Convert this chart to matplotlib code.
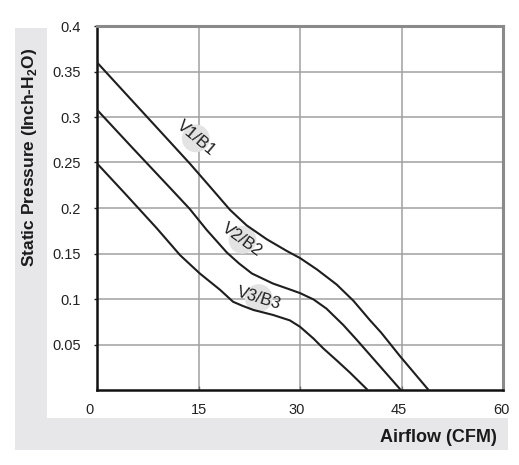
import matplotlib.pyplot as plt
import matplotlib.transforms as mtransforms
from matplotlib.patches import Rectangle

plt.rcParams['font.family'] = ['Liberation Sans', 'DejaVu Sans']
plt.rcParams['mathtext.fontset'] = 'custom'
plt.rcParams['mathtext.rm'] = 'Liberation Sans:bold'
plt.rcParams['mathtext.bf'] = 'Liberation Sans:bold'

# curve data (airflow CFM, static pressure inch-H2O)
v1_x = [0, 5, 10, 13.7, 16.7, 19.65, 22.1, 25.1, 28, 30, 32.5, 35.4, 37.9, 40.3, 42, 44.8, 49]
v1_y = [0.36, 0.3195, 0.279, 0.249, 0.2234, 0.198, 0.181, 0.1656, 0.153, 0.145, 0.1325,
        0.116, 0.098, 0.077, 0.063, 0.037, 0.0]

v2_x = [0, 5, 11, 13.7, 16.2, 19.2, 21, 22.9, 26, 28.5, 30, 32, 33.9, 36.4, 38.4, 41, 44.9]
v2_y = [0.308, 0.268, 0.2205, 0.199, 0.176, 0.151, 0.139, 0.128, 0.117, 0.1105, 0.1065,
        0.0995, 0.0895, 0.0714, 0.055, 0.033, 0.0]

v3_x = [0, 4, 8.8, 12.3, 15.2, 18.2, 20.1, 21.5, 23.1, 26, 28.5, 30, 32, 33.4, 35.5, 37.4, 40]
v3_y = [0.249, 0.217, 0.178, 0.148, 0.128, 0.110, 0.097, 0.0925, 0.088, 0.0825, 0.0765,
        0.0695, 0.0565, 0.046, 0.032, 0.019, 0.0]

labels = ['V1/B1', 'V2/B2', 'V3/B3']
x_ticks = [0, 15, 30, 45, 60]
y_ticks = [0.05, 0.1, 0.15, 0.2, 0.25, 0.3, 0.35, 0.4]
y_tick_labels = ['0.05', '0.1', '0.15', '0.2', '0.25', '0.3', '0.35', '0.4']

W, H = 519, 465
fig = plt.figure(figsize=(W / 100, H / 100), dpi=100)

# gray L-shaped panel behind the axis labels
gray = '#e7e7e9'
fig.patches.append(Rectangle((15 / W, 15 / H), 32 / W, 422 / H, transform=fig.transFigure,
                             facecolor=gray, edgecolor='none', zorder=0))
fig.patches.append(Rectangle((15 / W, 15 / H), 493 / W, 32 / H, transform=fig.transFigure,
                             facecolor=gray, edgecolor='none', zorder=0))

ax = fig.add_axes([97 / W, 75 / H, 406 / W, 364 / H])
ax.set_xlim(0, 60)
ax.set_ylim(0, 0.4)

ax.grid(True, color='#a0a0a0', linewidth=1.1)
ax.set_axisbelow(True)

line_kw = dict(color='#1e1e1e', linewidth=1.5, zorder=3, solid_capstyle='butt',
               solid_joinstyle='round')
ax.plot(v1_x, v1_y, **line_kw)
ax.plot(v2_x, v2_y, **line_kw)
ax.plot(v3_x, v3_y, **line_kw)

# curve labels with light circle behind
lab_pos = [(14.6, 0.2765), (21.5, 0.165), (23.9, 0.101)]
lab_rot = [-40, -36, -17]
for (lx, ly), rot, txt in zip(lab_pos, lab_rot, labels):
    ax.scatter([lx], [ly], s=400, color='#e3e3e3', edgecolors='none', zorder=2)
    ax.text(lx, ly, txt, rotation=rot, rotation_mode='anchor', ha='center', va='center',
            fontsize=12, color='#1e1e1e', zorder=4)

ax.set_xticks(x_ticks)
ax.set_xticklabels([str(t) for t in x_ticks])
ax.set_yticks(y_ticks)
ax.set_yticklabels(y_tick_labels)
ax.tick_params(axis='y', direction='out', length=2.5, width=1, pad=9, labelsize=10.5,
               colors='#222222')
ax.tick_params(axis='x', direction='in', length=3, width=1, pad=9, labelsize=10.5,
               colors='#222222')
ax.tick_params(axis='x', color='#707070')

for lbl, dx in zip(ax.get_xticklabels(), [-7, 0, -3, -3, -2]):
    lbl.set_transform(lbl.get_transform() +
                      mtransforms.ScaledTranslation(dx / 100, 0, fig.dpi_scale_trans))

for side in ['left', 'bottom']:
    ax.spines[side].set_color('#111111')
    ax.spines[side].set_linewidth(1.8)
for side in ['top', 'right']:
    ax.spines[side].set_color('#8a8a8a')
    ax.spines[side].set_linewidth(2.2)

fig.text(30 / W, 1 - 157 / H, r'Static Pressure (Inch-H$_{2}$O)', rotation=90,
         ha='center', va='center', fontsize=12.5, fontweight='bold', color='#1a1a1a')
fig.text(497 / W, 1 - 437 / H, 'Airflow (CFM)', ha='right', va='center',
         fontsize=13, fontweight='bold', color='#1a1a1a')

fig.savefig('out.png', dpi=100)
